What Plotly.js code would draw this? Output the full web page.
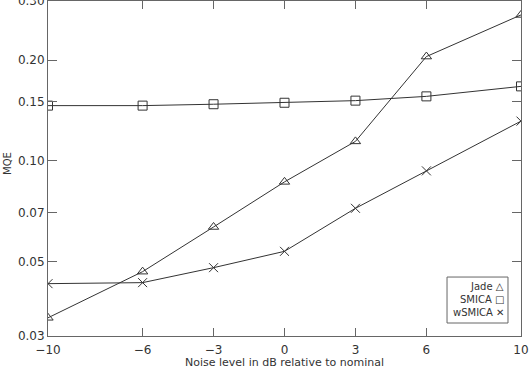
<!DOCTYPE html>
<html>
<head>
<meta charset="utf-8">
<script src="https://cdn.plot.ly/plotly-3.0.1.min.js"></script>
<style>
  html, body { margin: 0; padding: 0; background: #fff; }
  #chart { width: 530px; height: 370px; }
</style>
</head>
<body>
<div id="chart"></div>
<script>
// noise level (dB relative to nominal)
var noiseDb = [-10, -6, -3, 0, 3, 6, 10];

// MQE values
var jade   = [0.0340, 0.0467, 0.0635, 0.0866, 0.1144, 0.205, 0.273];
var smica  = [0.1463, 0.1463, 0.1477, 0.1492, 0.1514, 0.1559, 0.1670];
var wsmica = [0.0430, 0.0433, 0.0480, 0.0537, 0.0722, 0.0934, 0.1315];

var yTicks = [0.03, 0.05, 0.07, 0.10, 0.15, 0.20, 0.30];
var yTickText = ['0.03', '0.05', '0.07', '0.10', '0.15', '0.20', '0.30'];
var xTicks = [-10, -6, -3, 0, 3, 6, 10];
var xTickText = ['\u221210', '\u22126', '\u22123', '0', '3', '6', '10'];

var xTitle = 'Noise level in dB relative to nominal';
var yTitle = 'MQE';

var legendNames = ['Jade', 'SMICA', 'wSMICA'];
var legendSymbols = ['\u25B3', '\u25A1', '\u2715'];

var lineCol = '#333';
var axisCol = '#666';

function series(y, name, symbol) {
  return {
    x: noiseDb,
    y: y,
    name: name,
    mode: 'lines+markers',
    line: { color: lineCol, width: 1 },
    marker: { symbol: symbol, size: 9, color: lineCol, line: { color: lineCol, width: 1 } },
    showlegend: false
  };
}

var data = [
  series(jade, 'Jade', 'triangle-up-open'),
  series(smica, 'SMICA', 'square-open'),
  series(wsmica, 'wSMICA', 'x-thin-open')
];

var axisFont = { family: 'DejaVu Sans, sans-serif', size: 12, color: '#333' };
var titleFont = { family: 'DejaVu Sans, sans-serif', size: 11, color: '#333' };
var legFont = { family: 'DejaVu Sans, sans-serif', size: 10, color: '#333' };

// hand-made legend: label first, symbol on the right, inside a box
var legRowY = [0.149, 0.1075, 0.0687];
var annotations = legendNames.map(function(n, i) {
  return {
    xref: 'paper', yref: 'paper',
    x: 0.968, y: legRowY[i],
    xanchor: 'right', yanchor: 'middle',
    text: n + ' ' + legendSymbols[i],
    showarrow: false,
    font: legFont
  };
});

// axis titles placed by hand (standoff is ignored without automargin)
annotations.push({
  xref: 'paper', yref: 'paper',
  x: 0.501, y: -0.079,
  xanchor: 'center', yanchor: 'middle',
  text: xTitle, showarrow: false, font: titleFont
});
annotations.push({
  xref: 'paper', yref: 'paper',
  x: -0.0857, y: 0.515,
  xanchor: 'center', yanchor: 'middle',
  textangle: -90,
  text: yTitle, showarrow: false,
  font: { family: 'DejaVu Sans, sans-serif', size: 10, color: '#333' }
});

var layout = {
  width: 530,
  height: 370,
  margin: { l: 48, r: 9, t: 1, b: 34 },
  paper_bgcolor: '#fff',
  plot_bgcolor: '#fff',
  font: axisFont,
  xaxis: {
    range: [-10, 10],
    tickvals: xTicks,
    ticktext: xTickText,
    ticks: 'inside',
    ticklen: 8,
    tickcolor: axisCol,
    ticklabelstandoff: 3,
    showline: true,
    linecolor: axisCol,
    mirror: 'allticks',
    showgrid: false,
    zeroline: false,
    automargin: false,
    tickfont: axisFont
  },
  yaxis: {
    type: 'log',
    range: [Math.log10(0.03), Math.log10(0.3004)],
    tickvals: yTicks,
    ticktext: yTickText,
    ticks: 'inside',
    ticklen: 9,
    tickcolor: axisCol,
    ticklabeloverflow: 'allow',
    showline: true,
    linecolor: axisCol,
    mirror: 'allticks',
    showgrid: false,
    zeroline: false,
    automargin: false,
    tickfont: axisFont
  },
  shapes: [{
    type: 'rect',
    xref: 'paper', yref: 'paper',
    x0: 0.8436, x1: 0.9725, y0: 0.0388, y1: 0.176,
    line: { color: axisCol, width: 1 },
    fillcolor: '#fff',
    layer: 'below'
  }],
  annotations: annotations
};

Plotly.newPlot('chart', data, layout, { displayModeBar: false, staticPlot: true });
</script>
</body>
</html>
